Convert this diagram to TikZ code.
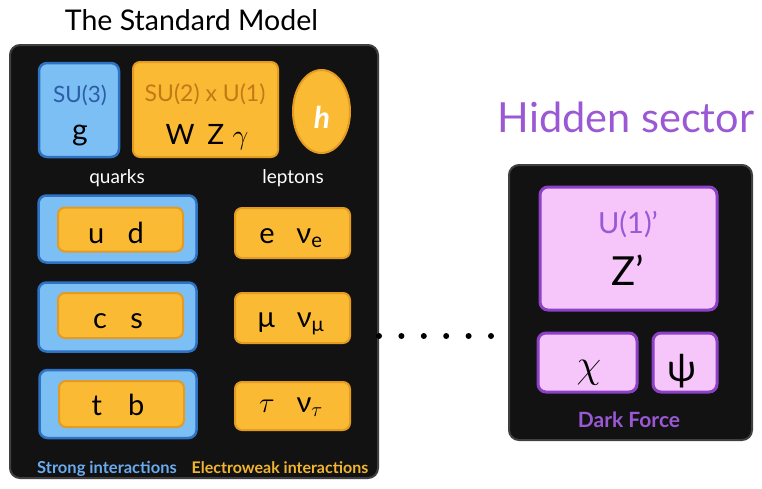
\documentclass[tikz,border=0pt]{standalone}
\usepackage{fix-cm}
\usepackage{fontspec}
\setmainfont{Lato}
\usetikzlibrary{shapes.geometric}
\definecolor{smblue}{HTML}{7CBFF5}
\definecolor{smblueedge}{HTML}{2E72C4}
\definecolor{smgold}{HTML}{FBBA33}
\definecolor{smgoldedge}{HTML}{E39B22}
\definecolor{hspink}{HTML}{F6C6FB}
\definecolor{hsedge}{HTML}{8B42C6}
\definecolor{hspurple}{HTML}{9B58D5}
\definecolor{sudark}{HTML}{2C5EA6}
\definecolor{subrown}{HTML}{C27916}
\definecolor{strongtxt}{HTML}{6AAAEE}
\definecolor{ewtxt}{HTML}{F2B531}
\newcommand\fsz[1]{\fontsize{#1}{#1}\selectfont}

\begin{document}
\begin{tikzpicture}[x=1pt,y=-1pt,
  panel/.style={fill=black!93,draw=black!75,line width=2pt,rounded corners=10pt,
    inner sep=0pt},
  bluebox/.style={fill=smblue,draw=smblueedge,line width=2.5pt,rounded corners=8pt,
    inner sep=0pt},
  goldbox/.style={fill=smgold,draw=smgoldedge,line width=2pt,rounded corners=7pt,
    inner sep=0pt},
  pinkbox/.style={fill=hspink,draw=hsedge,line width=3pt,rounded corners=8pt,
    inner sep=0pt},
  txt/.style={anchor=base,inner sep=0pt},
  darkdots/.style={line width=6pt,line cap=round,dash pattern=on 0pt off 22.4pt}]
  \useasboundingbox (0,0) rectangle (762,488);
  % the two sectors
  \node[panel,minimum width=368pt,minimum height=433pt] (sm) at (194,261.5) {};
  \node[panel,minimum width=243pt,minimum height=275pt] (hid) at (630.5,302.5) {};
  \node[txt,font=\fsz{28.5}] (smtitle) at (191.5,30) {The Standard Model};
  \node[txt,font=\fsz{41.5},text=hspurple] (hidtitle) at (626,132) {Hidden sector};
  % gauge bosons
  \node[bluebox,minimum width=80pt,minimum height=94pt] (su3) at (79,110) {};
  \node[goldbox,minimum width=145pt,minimum height=95pt] (su2) at (205.5,109.5) {};
  \node[ellipse,fill=smgold,draw=smgoldedge,line width=2pt,minimum width=57pt,
    minimum height=83pt] (higgs) at (321.5,111.5) {};
  \node[txt,font=\fsz{22.5},text=sudark] (su3lab) at (80,102) {SU(3)};
  \node[txt,font=\fsz{30}] (gluon) at (80,140) {g};
  \node[txt,font=\fsz{23},text=subrown] (su2lab) at (205,101) {SU(2) x U(1)};
  \node[txt,font=\fsz{28}] (wzg) at (207,144) {W\hspace{0.45em}Z\hspace{0.3em}$\gamma$};
  \node[txt,font=\fsz{30}\itshape\bfseries,text=white] (hlab) at (322,128) {h};
  \node[txt,font=\fsz{19},text=white] (quarks) at (117,183) {quarks};
  \node[txt,font=\fsz{19},text=white] (leptons) at (293,183) {leptons};
  % quarks
  \node[bluebox,minimum width=158pt,minimum height=67pt] (gen1) at (117.5,229) {};
  \node[bluebox,minimum width=158pt,minimum height=69pt] (gen2) at (117.5,317) {};
  \node[bluebox,minimum width=157pt,minimum height=68pt] (gen3) at (118,404) {};
  \node[goldbox,minimum width=125pt,minimum height=44pt] (ud) at (120.5,229.5) {};
  \node[goldbox,minimum width=125pt,minimum height=45pt] (cs) at (120.5,315.5) {};
  \node[goldbox,minimum width=125pt,minimum height=46pt] (tb) at (121.5,404) {};
  \node[txt,font=\fsz{29}] (udlab) at (116,243) {u\hspace{0.8em}d};
  \node[txt,font=\fsz{29}] (cslab) at (118,328) {c\hspace{0.8em}s};
  \node[txt,font=\fsz{29}] (tblab) at (118,415) {t\hspace{0.9em}b};
  % leptons
  \node[goldbox,minimum width=115pt,minimum height=50pt] (enu) at (292.5,233) {};
  \node[goldbox,minimum width=115pt,minimum height=50pt] (munu) at (292.5,318) {};
  \node[goldbox,minimum width=115pt,minimum height=48pt] (taunu) at (292.5,406) {};
  \node[txt,font=\fsz{29}] (elab) at (291,243) {e\hspace{0.75em}ν\textsubscript{e}};
  \node[txt,font=\fsz{29}] (mulab) at (291,327) {μ\hspace{0.75em}ν\textsubscript{μ}};
  \node[txt,font=\fsz{29}] (taulab) at (291,412) {$\tau$\hspace{0.75em}ν\textsubscript{$\tau$}};
  \node[txt,font=\fsz{16.5}\bfseries,text=strongtxt] (strong) at (107,473) {Strong interactions};
  \node[txt,font=\fsz{16}\bfseries,text=ewtxt] (ew) at (280,473) {Electroweak interactions};
  % hidden sector
  \node[pinkbox,minimum width=177pt,minimum height=123pt] (zp) at (628.5,248.5) {};
  \node[pinkbox,minimum width=99pt,minimum height=59pt] (chi) at (587.5,362.5) {};
  \node[pinkbox,minimum width=64pt,minimum height=59pt] (psi) at (685,362.5) {};
  \node[txt,font=\fsz{29},text=hspurple] (u1lab) at (628,233) {U(1)’};
  \node[txt,font=\fsz{40}] (zplab) at (628,285) {Z’};
  \node[txt,font=\fsz{40}] (chilab) at (589,377) {$\chi$};
  \node[txt,font=\fsz{38}] (psilab) at (682,381) {ψ};
  \node[txt,font=\fsz{21}\bfseries,text=hspurple] (dark) at (629,427) {Dark Force};
  % link between the sectors
  \coordinate (dotend) at (491.5,336);
  \draw[darkdots] (sm.east |- dotend) -- (dotend);
\end{tikzpicture}
\end{document}
